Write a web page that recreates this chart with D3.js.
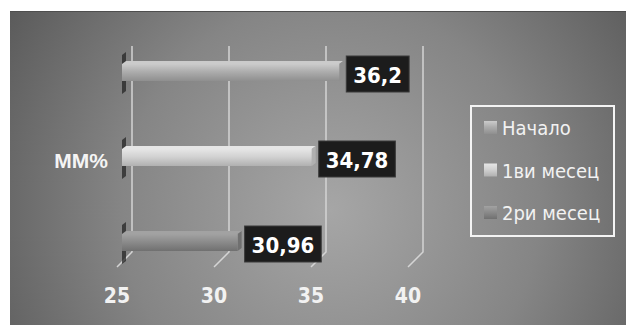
<!DOCTYPE html>
<html>
<head>
<meta charset="utf-8">
<script src="https://cdn.jsdelivr.net/npm/d3@7"></script>
<style>
    body { margin: 0; background: #fff; }
    svg text { font-family: "Liberation Sans Narrow", "DejaVu Sans Condensed", "Liberation Sans", sans-serif; }
</style>
</head>
<body>
<div id="chart"></div>
<script>
const series = ['Начало', '1ви месец', '2ри месец'];
const values = [36.2, 34.78, 30.96];
const category = 'MM%';
const ticks = [25, 30, 35, 40];

const fills = {
    'Начало': ['#cbcbcb', '#adadad', '#8f8f8f'],
    '1ви месец': ['#e6e6e6', '#d2d2d2', '#b0b0b0'],
    '2ри месец': ['#a2a2a2', '#8c8c8c', '#707070']
};

const width = 626;
const height = 325;
const depth = 10;
const gridTop = 46;
const gridBottom = 252;

const locale = d3.formatLocale({decimal: ',', thousands: '.', grouping: [3], currency: ['', '']});
const fmt = locale.format('~g');

const svg = d3.select('#chart')
    .append('svg')
        .attr('width', width)
        .attr('height', height);

const defs = svg.append('defs');

const bg = defs.append('radialGradient')
    .attr('id', 'bg')
    .attr('gradientUnits', 'userSpaceOnUse')
    .attr('cx', 330).attr('cy', 210).attr('r', 380);
bg.append('stop').attr('offset', '0%').attr('stop-color', '#a6a6a6');
bg.append('stop').attr('offset', '55%').attr('stop-color', '#858585');
bg.append('stop').attr('offset', '100%').attr('stop-color', '#5a5a5a');

series.forEach((s, i) => {
    const g = defs.append('linearGradient')
        .attr('id', `bar${i}`)
        .attr('x1', 0).attr('y1', 0).attr('x2', 0).attr('y2', 1);
    g.append('stop').attr('offset', '0%').attr('stop-color', fills[s][0]);
    g.append('stop').attr('offset', '45%').attr('stop-color', fills[s][1]);
    g.append('stop').attr('offset', '100%').attr('stop-color', fills[s][2]);
});

svg.append('rect')
    .attr('x', 10)
    .attr('y', 11)
    .attr('width', width - 10)
    .attr('height', height - 11)
    .attr('fill', 'url(#bg)');

svg.append('line')
    .attr('x1', 10).attr('x2', width)
    .attr('y1', 11.5).attr('y2', 11.5)
    .attr('stroke', '#4e4e4e');

const xScale = d3.scaleLinear()
    .domain([25, 40])
    .range([132, 423]);

const yScale = d3.scaleBand()
    .domain(series)
    .range([30, 285]);

// gridlines with 3d floor tick
svg.selectAll('.grid')
    .data(ticks)
    .join('path')
        .classed('grid', true)
        .attr('d', d => `M${xScale(d)},${gridTop}V${gridBottom}l-15,15`)
        .attr('fill', 'none')
        .attr('stroke', '#d4d4d4')
        .attr('stroke-width', 1.5);

svg.selectAll('.tick-label')
    .data(ticks)
    .join('text')
        .classed('tick-label', true)
        .attr('x', d => xScale(d) - 15)
        .attr('y', 303)
        .attr('text-anchor', 'middle')
        .attr('font-size', 21)
        .attr('font-weight', 'bold')
        .attr('fill', '#f2f2f2')
        .text(d => d);

const barH = 17;
const barY = s => yScale(s) + yScale.bandwidth() / 2 - barH / 2;
const x0 = xScale(25) - depth;

const bars = svg.selectAll('.bar')
    .data(series.map((s, i) => ({s, v: values[i], i})))
    .join('g')
        .classed('bar', true);

// dark shadows on the back wall, above and below the bar end
bars.append('path')
    .attr('d', d => `M${x0},${barY(d.s) - 9}l4,-3v12h-4z`)
    .attr('fill', '#262626')
    .attr('opacity', 0.75);

bars.append('path')
    .attr('d', d => `M${x0},${barY(d.s) + barH}h4v10l-4,3z`)
    .attr('fill', '#262626')
    .attr('opacity', 0.75);

// top face
bars.append('path')
    .attr('d', d => `M${x0},${barY(d.s)}l4,-3H${xScale(d.v) - depth + 4}l-4,3z`)
    .attr('fill', d => fills[d.s][0]);

// right end face
bars.append('path')
    .attr('d', d => `M${xScale(d.v) - depth},${barY(d.s)}l4,-3v${barH}l-4,3z`)
    .attr('fill', d => fills[d.s][2]);

bars.append('rect')
    .attr('x', x0)
    .attr('y', d => barY(d.s))
    .attr('width', d => xScale(d.v) - depth - x0)
    .attr('height', barH)
    .attr('fill', d => `url(#bar${d.i})`);

// value labels
const labels = bars.append('g');

labels.append('rect')
    .attr('fill', '#1c1c1c')
    .attr('stroke', '#3a3a3a');

labels.append('text')
    .attr('font-size', 22)
    .attr('font-weight', 'bold')
    .attr('fill', '#ffffff')
    .attr('dominant-baseline', 'central')
    .text(d => fmt(d.v));

labels.each(function(d) {
    const g = d3.select(this);
    const tw = g.select('text').node().getComputedTextLength();
    const bx = xScale(d.v) - depth + 7;
    const cy = barY(d.s) + barH / 2 + 1.5;
    g.select('rect')
        .attr('x', bx)
        .attr('y', cy - 18)
        .attr('width', tw + 14)
        .attr('height', 36);
    g.select('text')
        .attr('x', bx + 7)
        .attr('y', cy + 1);
});

svg.append('text')
    .attr('x', 108)
    .attr('y', 168)
    .attr('text-anchor', 'end')
    .attr('font-size', 21)
    .attr('font-weight', 'bold')
    .attr('fill', '#f4f4f4')
    .style('font-family', '"Liberation Sans", sans-serif')
    .text(category);

// legend
const legend = svg.append('g');

legend.append('rect')
    .attr('x', 471)
    .attr('y', 106)
    .attr('width', 143)
    .attr('height', 130)
    .attr('fill', 'none')
    .attr('stroke', '#f4f4f4')
    .attr('stroke-width', 2);

const legendY = d3.scalePoint()
    .domain(series)
    .range([128, 213]);

const items = legend.selectAll('.item')
    .data(series)
    .join('g')
        .classed('item', true)
        .attr('transform', d => `translate(484,${legendY(d)})`);

items.append('rect')
    .attr('x', 0)
    .attr('y', -7)
    .attr('width', 13)
    .attr('height', 13)
    .attr('fill', (d, i) => `url(#bar${i})`);

items.append('text')
    .attr('x', 18)
    .attr('y', 0)
    .attr('dominant-baseline', 'central')
    .attr('font-size', 20)
    .attr('fill', '#f2f2f2')
    .text(d => d);
</script>
</body>
</html>
